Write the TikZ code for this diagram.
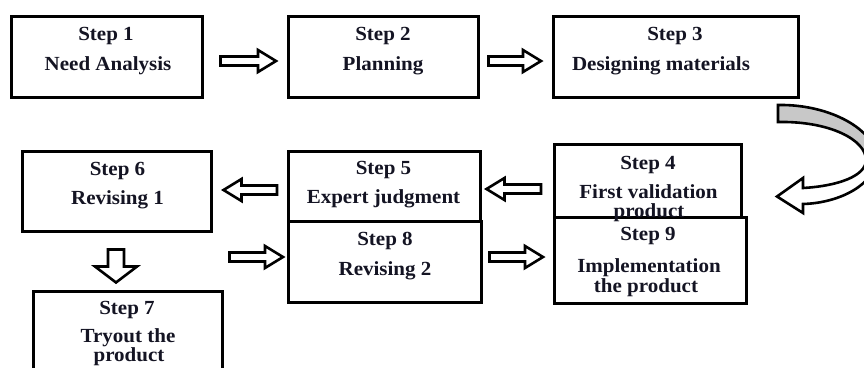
\documentclass[tikz,border=0pt]{standalone}
\usepackage{fontspec}
\setmainfont[FakeStretch=1.05]{Liberation Serif}
\usetikzlibrary{calc}
\definecolor{txt}{RGB}{20,20,35}
\definecolor{backgray}{RGB}{200,200,200}
\tikzset{
  stepbox/.style={draw=black, line width=3pt, inner sep=0pt, outer sep=0pt},
  steptxt/.style={font=\bfseries\fontsize{20}{24}\selectfont, text=txt, inner sep=0pt, yshift=-3pt},
  blockarr/.style={draw=black, line width=2.6pt, fill=white, line join=miter},
}
% from, to, shaft half width, head half width, head length
\newcommand{\myblockarrow}[5]{%
  \coordinate (hb) at ($(#2)!#5!(#1)$);
  \draw[blockarr] ($(#1)!#3!90:(#2)$) -- ($(hb)!#3!90:(#2)$) -- ($(hb)!#4!90:(#2)$) -- (#2)
    -- ($(hb)!#4!-90:(#2)$) -- ($(hb)!#3!-90:(#2)$) -- ($(#1)!#3!-90:(#2)$) -- cycle;}
\newcommand{\curvearrowpath}{(778,105) .. controls (830,104) and (876,130) .. (876,158)
  .. controls (876,184) and (840,203) .. (803,204) -- (803,213) -- (777,196.5) -- (803,178)
  -- (803,188) .. controls (838,186) and (866,176) .. (866,160)
  .. controls (866,140) and (830,121) .. (778,122) -- cycle}
\begin{document}
\begin{tikzpicture}[x=1pt,y=-1pt]
\useasboundingbox (0,0) rectangle (864,367);
\clip (0,0) rectangle (864,367);
\fill[white] (0,0) rectangle (864,367);

% boxes
\node[stepbox, minimum width=191pt, minimum height=81pt] (s1) at (107,57) {};
\node[stepbox, minimum width=190pt, minimum height=81pt] (s2) at (383.5,57) {};
\node[stepbox, minimum width=245pt, minimum height=81pt] (s3) at (676,57) {};
\node[stepbox, minimum width=187pt, minimum height=72.5pt] (s4) at (648,180.75) {};
\node[stepbox, minimum width=192pt, minimum height=86.5pt] (s9) at (650.5,260.25) {};
\node[stepbox, minimum width=192pt, minimum height=69.5pt] (s5) at (384.5,186.25) {};
\node[stepbox, minimum width=193pt, minimum height=81.5pt] (s8) at (385,261.75) {};
\node[stepbox, minimum width=189pt, minimum height=80pt] (s6) at (117,191.5) {};
\node[stepbox, minimum width=189pt, minimum height=108.5pt] (s7) at (128,345.75) {};

% texts
\node[steptxt] (t1a) at (106,33) {Step 1};
\node[steptxt] (t1b) at (108,63) {Need Analysis};
\node[steptxt] (t2a) at (383,33) {Step 2};
\node[steptxt] (t2b) at (383,63) {Planning};
\node[steptxt] (t3a) at (675,33) {Step 3};
\node[steptxt] (t3b) at (661,63) {Designing materials};
\node[steptxt] (t4a) at (648,162) {Step 4};
\node[steptxt] (t4b) at (648.5,188.5) {First validation};
\node[steptxt] (t4c) at (649,210) {product};
\node[steptxt] (t5a) at (383.5,167) {Step 5};
\node[steptxt] (t5b) at (383.5,196) {Expert judgment};
\node[steptxt] (t6a) at (117.5,168) {Step 6};
\node[steptxt] (t6b) at (117.5,197) {Revising 1};
\node[steptxt] (t7a) at (127,307) {Step 7};
\node[steptxt] (t7b) at (128,334.5) {Tryout the};
\node[steptxt] (t7c) at (129,353.5) {product};
\node[steptxt] (t8a) at (385,238) {Step 8};
\node[steptxt] (t8b) at (385,268) {Revising 2};
\node[steptxt] (t9a) at (648,233) {Step 9};
\node[steptxt] (t9b) at (649,265) {Implementation};
\node[steptxt] (t9c) at (646,285) {the product};

% arrow end points
\coordinate (a1s) at (220.5,61);  \coordinate (a1e) at (276,61);
\coordinate (a2s) at (488.5,61);  \coordinate (a2e) at (541,61);
\coordinate (a3s) at (541,189);   \coordinate (a3e) at (486.5,189);
\coordinate (a4s) at (277,190);   \coordinate (a4e) at (223.5,190);
\coordinate (a5s) at (229.5,257); \coordinate (a5e) at (283,257);
\coordinate (a6s) at (489.5,257); \coordinate (a6e) at (543,257);
\coordinate (a7s) at (116,249.5); \coordinate (a7e) at (116,282.5);

\myblockarrow{a1s}{a1e}{4.5pt}{11pt}{18pt}
\myblockarrow{a2s}{a2e}{4.5pt}{11pt}{18pt}
\myblockarrow{a3s}{a3e}{4.5pt}{11pt}{18pt}
\myblockarrow{a4s}{a4e}{4.5pt}{11pt}{18pt}
\myblockarrow{a5s}{a5e}{4.5pt}{11pt}{18pt}
\myblockarrow{a6s}{a6e}{4.5pt}{11pt}{18pt}
\myblockarrow{a7s}{a7e}{8pt}{21pt}{16pt}

% curved arrow from step 3 to step 4
\fill[white] \curvearrowpath;
\begin{scope}
  \clip (740,80) rectangle (900,158);
  \fill[backgray] \curvearrowpath;
\end{scope}
\draw[line width=2.6pt, line join=miter] \curvearrowpath;
\end{tikzpicture}
\end{document}
